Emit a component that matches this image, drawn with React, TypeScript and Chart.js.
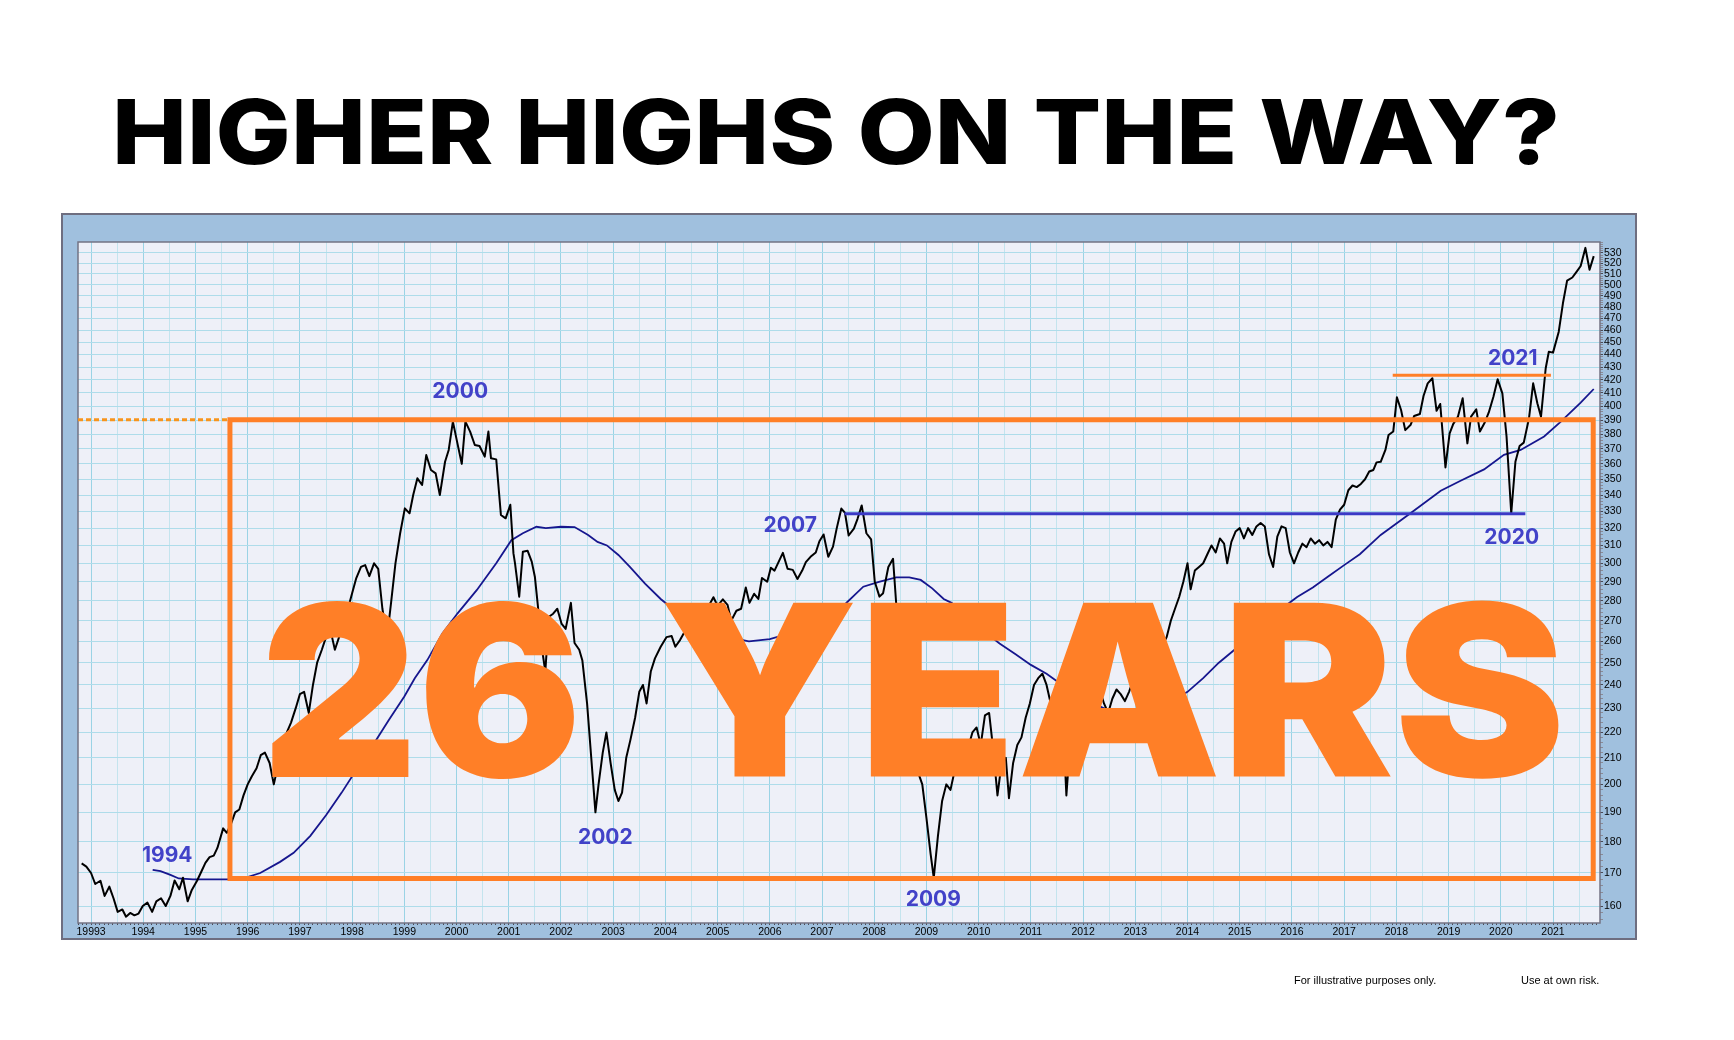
import React, { useEffect, useRef } from 'react';
import { Chart, registerables } from 'chart.js';

Chart.register(...registerables);

// ---------------- DATA ----------------
const TITLE = 'HIGHER HIGHS ON THE WAY?';
const BIG_TEXT_PARTS = ['26', 'YEARS'];
const FOOTER_LEFT = 'For illustrative purposes only.';
const FOOTER_RIGHT = 'Use at own risk.';

// x tick labels (years)
const xTickYears = [1993, 1994, 1995, 1996, 1997, 1998, 1999, 2000, 2001, 2002, 2003, 2004, 2005, 2006, 2007, 2008, 2009, 2010, 2011, 2012, 2013, 2014, 2015, 2016, 2017, 2018, 2019, 2020, 2021];
const xTickLabels = ['19993', '1994', '1995', '1996', '1997', '1998', '1999', '2000', '2001', '2002', '2003', '2004', '2005', '2006', '2007', '2008', '2009', '2010', '2011', '2012', '2013', '2014', '2015', '2016', '2017', '2018', '2019', '2020', '2021'];
// y tick labels
const yTickValues = [160, 170, 180, 190, 200, 210, 220, 230, 240, 250, 260, 270, 280, 290, 300, 310, 320, 330, 340, 350, 360, 370, 380, 390, 400, 410, 420, 430, 440, 450, 460, 470, 480, 490, 500, 510, 520, 530];

// price (decimal year, value)
const priceYears = [
  1992.82, 1992.91, 1993.0, 1993.08, 1993.18, 1993.26, 1993.35, 1993.43, 1993.51, 1993.6, 1993.67, 1993.75, 1993.83, 1993.91, 1993.99,
  1994.08, 1994.17, 1994.25, 1994.34, 1994.43, 1994.52, 1994.6, 1994.69, 1994.76, 1994.85, 1994.93,
  1995.03, 1995.1, 1995.19, 1995.27, 1995.35, 1995.42, 1995.53, 1995.6, 1995.68, 1995.76, 1995.84, 1995.92,
  1996.0, 1996.08, 1996.17, 1996.25, 1996.33, 1996.42, 1996.5, 1996.58, 1996.67, 1996.75, 1996.83, 1996.92,
  1997.0, 1997.08, 1997.17, 1997.25, 1997.33, 1997.42, 1997.5, 1997.58, 1997.67, 1997.75, 1997.83, 1997.92,
  1998.0, 1998.08, 1998.17, 1998.25, 1998.33, 1998.42, 1998.5, 1998.58, 1998.67, 1998.75, 1998.83, 1998.92,
  1999.01, 1999.1, 1999.17, 1999.25, 1999.34, 1999.42, 1999.51, 1999.6, 1999.68, 1999.78, 1999.85, 1999.93,
  2000.01, 2000.1, 2000.17, 2000.26, 2000.35, 2000.44, 2000.54, 2000.61, 2000.66, 2000.76, 2000.85, 2000.94,
  2001.03, 2001.09, 2001.12, 2001.2, 2001.27, 2001.36, 2001.44, 2001.5, 2001.56, 2001.64, 2001.7, 2001.77, 2001.85, 2001.93,
  2002.01, 2002.09, 2002.19, 2002.26, 2002.35, 2002.41, 2002.5, 2002.58, 2002.66, 2002.72, 2002.8, 2002.87, 2002.95,
  2003.03, 2003.1, 2003.17, 2003.25, 2003.33, 2003.42, 2003.5, 2003.57, 2003.64, 2003.72, 2003.8, 2003.91,
  2004.02, 2004.12, 2004.19, 2004.28, 2004.35, 2004.43, 2004.5, 2004.6, 2004.7, 2004.8, 2004.92,
  2005.0, 2005.1, 2005.19, 2005.26, 2005.36, 2005.45, 2005.54, 2005.61, 2005.7, 2005.78, 2005.85, 2005.95,
  2006.02, 2006.09, 2006.18, 2006.25, 2006.34, 2006.44, 2006.53, 2006.62, 2006.69, 2006.78, 2006.88, 2006.95,
  2007.03, 2007.12, 2007.21, 2007.28, 2007.37, 2007.44, 2007.51, 2007.61, 2007.68, 2007.76, 2007.85, 2007.94,
  2008.01, 2008.1, 2008.17, 2008.27, 2008.36, 2008.42, 2008.5, 2008.58, 2008.67, 2008.75, 2008.83, 2008.92,
  2009.0, 2009.08, 2009.14, 2009.22, 2009.3, 2009.38, 2009.46, 2009.55, 2009.63, 2009.71, 2009.8, 2009.88, 2009.96,
  2010.04, 2010.12, 2010.2, 2010.28, 2010.36, 2010.44, 2010.52, 2010.58, 2010.66, 2010.74, 2010.82, 2010.9, 2010.98,
  2011.06, 2011.14, 2011.22, 2011.3, 2011.38, 2011.46, 2011.54, 2011.62, 2011.68, 2011.76, 2011.84, 2011.92,
  2012.0, 2012.08, 2012.16, 2012.24, 2012.32, 2012.4, 2012.48, 2012.56, 2012.64, 2012.72, 2012.8, 2012.88, 2012.96,
  2013.04, 2013.12, 2013.2, 2013.28, 2013.36, 2013.44, 2013.52, 2013.6, 2013.68, 2013.76, 2013.84, 2013.92,
  2014.0, 2014.06, 2014.14, 2014.22, 2014.3, 2014.38, 2014.46, 2014.54, 2014.62, 2014.7, 2014.76, 2014.84, 2014.92,
  2015.0, 2015.08, 2015.16, 2015.24, 2015.32, 2015.4, 2015.48, 2015.56, 2015.64, 2015.72, 2015.8, 2015.88, 2015.96,
  2016.04, 2016.12, 2016.2, 2016.28, 2016.36, 2016.44, 2016.52, 2016.6, 2016.68, 2016.76, 2016.84, 2016.92,
  2017.0, 2017.08, 2017.16, 2017.24, 2017.32, 2017.4, 2017.48, 2017.56, 2017.62, 2017.7, 2017.79, 2017.85, 2017.94,
  2018.01, 2018.09, 2018.17, 2018.27, 2018.34, 2018.45, 2018.52, 2018.6, 2018.69, 2018.77, 2018.84, 2018.94,
  2019.02, 2019.09, 2019.18, 2019.27, 2019.36, 2019.43, 2019.53, 2019.6, 2019.69, 2019.77, 2019.86, 2019.94,
  2020.03, 2020.11, 2020.2, 2020.28, 2020.36, 2020.44, 2020.54, 2020.62, 2020.7, 2020.77, 2020.86, 2020.92,
  2021.0, 2021.11, 2021.19, 2021.27, 2021.37, 2021.45, 2021.53, 2021.62, 2021.7, 2021.78,
];
const priceValues = [
  173, 172, 170, 166.6, 167.6, 163, 165.8, 162.3, 158.3, 159, 156.9, 158, 157.3, 157.8, 160,
  161, 158.3, 161.4, 162.3, 160, 163, 167.7, 165, 168.5, 161.4, 164.8,
  167.6, 170, 173.2, 175, 175.5, 178, 184.5, 183, 186, 190, 191, 196,
  200, 203, 206, 211, 212, 208, 200, 207, 214, 220, 224, 230,
  236, 237, 228, 240, 250, 256, 262, 266, 256, 262, 270, 276,
  284, 292, 298, 299, 293, 300, 297, 276, 262, 280, 300, 317,
  331.8, 328.8, 340, 350.6, 346.3, 365.9, 356, 353.8, 340, 361.4, 369.3, 389,
  375, 360, 389, 381.9, 372.7, 372, 364.8, 382, 363.7, 363, 327.8, 325.8,
  334, 305.5, 300, 282.2, 306.4, 307, 300.9, 292.7, 277, 255.9, 246, 272, 273.5, 276,
  268.6, 266, 279, 259.2, 256, 251, 232, 210, 190, 200, 212, 220, 208,
  198, 194, 197, 210, 217, 226, 237, 240, 232, 246, 252, 257.4,
  262, 262.5, 257.4, 260.6, 263.8, 266, 268.7, 266, 272, 276, 281.9,
  277.5, 280.8, 278, 270, 275, 276, 287, 279, 283.7, 281, 292, 290,
  297.6, 296, 301.5, 305.8, 297, 296.4, 291.5, 296, 300.6, 303.6, 306, 312.4,
  316.3, 303.6, 309.3, 319.7, 331.7, 329, 315.7, 319.7, 325.5, 333.6, 317, 313.5,
  290, 282.2, 284, 298, 302.5, 278.8, 265, 255, 240, 222, 205, 200,
  188, 176, 168.5, 182, 194, 200, 198, 206, 212, 216, 214, 220, 222,
  215, 227, 228, 213, 196, 208, 210, 195, 208, 215, 218, 226, 232,
  240, 243, 245, 240, 232, 230, 228, 222, 196, 218, 224, 228,
  232, 236, 241, 246, 238, 232, 228, 234, 238, 236, 233, 237, 242,
  248, 252, 256, 262, 258, 264, 258, 262, 270, 276, 282, 290,
  300, 286, 296, 298, 300, 305, 310, 306, 314, 311, 300, 312, 318,
  320, 314, 320, 316, 321, 323, 321, 305, 298, 315, 321, 320, 306,
  300, 306, 311, 309, 314, 311, 313, 310, 312, 309, 325, 331,
  334, 343, 346, 345, 347, 350, 355, 356, 361, 361.4, 369.3, 379.6, 382,
  406.8, 397.4, 383, 386.6, 393, 394.5, 407.7, 417.3, 421.2, 396.8, 401.8, 357.7,
  380.7, 387.4, 392.6, 406, 373.8, 392.6, 397.9, 382, 388.2, 395.6, 407.4, 420.4,
  409.7, 378.6, 328.8, 361.4, 372, 374.3, 391.4, 417.3, 402.3, 392.6, 429, 442.2,
  441.5, 458.8, 483.3, 503.8, 506.7, 512, 517.5, 535, 514, 527,
];

// long moving average (decimal year, value)
const maYears = [
  1994.18, 1994.33, 1994.52, 1994.68, 1994.95, 1995.22, 1995.6, 1995.92, 1996.24, 1996.62, 1996.88, 1997.2, 1997.5, 1997.8,
  1998.1, 1998.4, 1998.7, 1999.0, 1999.2, 1999.44, 1999.73, 2000.02, 2000.39, 2000.76, 2001.05, 2001.27, 2001.53, 2001.71,
  2002.0, 2002.26, 2002.52, 2002.7, 2002.88, 2003.1, 2003.32, 2003.61, 2003.91, 2004.05, 2004.4, 2004.8, 2005.2, 2005.6,
  2006.0, 2006.4, 2006.8, 2007.1, 2007.46, 2007.79, 2008.09, 2008.42, 2008.67, 2008.89, 2009.11, 2009.33, 2009.48, 2009.8,
  2010.1, 2010.4, 2010.7, 2011.0, 2011.3, 2011.6, 2011.9, 2012.2, 2012.5, 2012.8, 2013.1, 2013.4, 2013.7, 2014.0, 2014.3,
  2014.6, 2014.9, 2015.2, 2015.5, 2015.8, 2016.1, 2016.4, 2016.7, 2017.0, 2017.3, 2017.7, 2018.27, 2018.85, 2019.23, 2019.68,
  2020.06, 2020.38, 2020.83, 2021.15, 2021.53, 2021.78,
];
const maValues = [
  171, 170.6, 169.4, 168.3, 168, 168, 168, 168.3, 170, 173.5, 176.4, 182, 189, 197,
  206, 215, 225, 235, 243, 251.2, 263.8, 273.7, 285.7, 300, 313, 317, 320.8, 320,
  320.8, 320.6, 316, 312, 310, 304.6, 298, 289, 281, 277.9, 271, 266, 262, 260,
  261, 264, 269, 273, 278.8, 287.4, 290, 292.4, 292.4, 291, 286.5, 281, 279, 271,
  265, 259, 254, 249, 245, 240, 236, 232, 229, 228, 228, 230, 233, 237, 243,
  250, 256, 262, 270, 276, 282, 287, 293, 299, 305, 316, 328.8, 342.7, 349, 356.4,
  366, 369.3, 378.6, 389, 402.8, 413,
];

// annotation levels (data space)
const high2007Level = 328.5;
const high2007Span = [2007.43, 2020.47];
const high2021Level = 423.5;
const high2021Span = [2017.93, 2020.96];
const boxTop = 390.3;
const boxBottom = 168.3;
const boxSpan = [1995.66, 2021.77];
const xMin = 1992.75;
const xMax = 2021.9;
const yMin = 155.1;
const yMax = 540.8;

const yearNotes = [
  { text: '1994', x: 1994.46, y: 176 },
  { text: '2000', x: 2000.07, y: 411.5 },
  { text: '2002', x: 2002.85, y: 181.9 },
  { text: '2007', x: 2006.39, y: 322.4 },
  { text: '2009', x: 2009.13, y: 162.3 },
  { text: '2020', x: 2020.21, y: 315.4 },
  { text: '2021', x: 2020.23, y: 437.9 },
];

// ---------------- STYLE ----------------
const ORANGE = '#FF7F27';
const NOTE_BLUE = '#4242C8';
const LINE_BLUE = '#3A3AC6';
const MA_BLUE = '#16168E';
// horizontal extents of the two big words, relative to the plot's left edge
const BIG_BOXES = [
  { left: 190, right: 497 },
  { left: 586, right: 1481 },
];
const BIG_TOP = 359;
const BIG_BOTTOM = 537;

const monthIndex = (v: number) => Math.round(v * 12);

const decorPlugin = {
  id: 'decor',
  beforeDraw(chart: any) {
    const { ctx, chartArea: a } = chart;
    ctx.save();
    ctx.fillStyle = '#ffffff';
    ctx.fillRect(0, 0, chart.width, chart.height);
    const L = a.left - 16, T = a.top - 28, R = a.right + 36, B = a.bottom + 16;
    ctx.fillStyle = '#A0C0DE';
    ctx.fillRect(L, T, R - L, B - T);
    ctx.strokeStyle = '#6E6E80';
    ctx.lineWidth = 2;
    ctx.strokeRect(L, T, R - L, B - T);
    ctx.fillStyle = '#EEF0F8';
    ctx.fillRect(a.left, a.top, a.right - a.left, a.bottom - a.top);
    ctx.restore();
  },
  beforeDatasetsDraw(chart: any) {
    const { ctx, chartArea: a } = chart;
    ctx.save();
    ctx.strokeStyle = '#737384';
    ctx.lineWidth = 1.5;
    ctx.strokeRect(a.left, a.top, a.right - a.left, a.bottom - a.top);
    ctx.restore();
  },
  afterDatasetsDraw(chart: any) {
    const { ctx, chartArea: a } = chart;
    const xs = chart.scales.x;
    const ys = chart.scales.y;
    ctx.save();
    // year notes
    ctx.font = '700 21px Inter, "Open Sans", sans-serif';
    ctx.fillStyle = NOTE_BLUE;
    ctx.textAlign = 'center';
    ctx.textBaseline = 'alphabetic';
    for (const n of yearNotes) {
      ctx.fillText(n.text, xs.getPixelForValue(n.x), ys.getPixelForValue(n.y) + 7.5);
    }
    ctx.restore();
    // big "26 YEARS"
    const font = '900 200px Inter, "Open Sans", sans-serif';
    BIG_TEXT_PARTS.forEach((txt, i) => {
      ctx.save();
      ctx.font = font;
      ctx.textAlign = 'left';
      ctx.textBaseline = 'alphabetic';
      const m = ctx.measureText(txt);
      const w = m.actualBoundingBoxLeft + m.actualBoundingBoxRight;
      const h = m.actualBoundingBoxAscent + m.actualBoundingBoxDescent;
      const bl = a.left + BIG_BOXES[i].left, br = a.left + BIG_BOXES[i].right;
      const bt = a.top + BIG_TOP, bb = a.top + BIG_BOTTOM;
      ctx.translate(bl, bb);
      ctx.scale((br - bl) / w, (bb - bt) / h);
      ctx.fillStyle = ORANGE;
      ctx.fillText(txt, m.actualBoundingBoxLeft, -m.actualBoundingBoxDescent);
      ctx.restore();
    });
  },
};

export default function App() {
  const canvasRef = useRef<HTMLCanvasElement | null>(null);
  const titleRef = useRef<HTMLDivElement | null>(null);

  useEffect(() => {
    document.body.style.overflow = 'hidden';
    // fit the title
    const t = titleRef.current;
    if (t) {
      const mc = document.createElement('canvas').getContext('2d')!;
      const fam = '800 100px Inter, "Open Sans", sans-serif';
      mc.font = fam;
      const m = mc.measureText(TITLE);
      const fA = (m as any).fontBoundingBoxAscent ?? 97;
      const fD = (m as any).fontBoundingBoxDescent ?? 24;
      const box = { left: 117, right: 1556, top: 98, bottom: 165 };
      const sx = (box.right - box.left) / (m.actualBoundingBoxLeft + m.actualBoundingBoxRight);
      const sy = (box.bottom - box.top) / (m.actualBoundingBoxAscent + m.actualBoundingBoxDescent);
      t.style.font = fam;
      t.style.lineHeight = `${fA + fD}px`;
      t.style.left = `${box.left + sx * m.actualBoundingBoxLeft}px`;
      t.style.top = `${box.top - sy * (fA - m.actualBoundingBoxAscent)}px`;
      t.style.transform = `scale(${sx}, ${sy})`;
      t.style.visibility = 'visible';
    }

    const labelMap = new Map<number, string>();
    xTickYears.forEach((y, i) => labelMap.set(y * 12, xTickLabels[i]));
    const monthTicks: number[] = [];
    for (let mi = Math.ceil(xMin * 12); mi <= Math.floor(xMax * 12); mi++) monthTicks.push(mi / 12);
    const yMinor: number[] = [];
    for (let v = 156; v <= 540; v += 2) yMinor.push(v);
    const ySet = new Set(yTickValues);

    const price = priceYears.map((x, i) => ({ x, y: priceValues[i] }));
    const ma = maYears.map((x, i) => ({ x, y: maValues[i] }));
    const boxPts = [
      { x: boxSpan[0], y: boxTop },
      { x: boxSpan[1], y: boxTop },
      { x: boxSpan[1], y: boxBottom },
      { x: boxSpan[0], y: boxBottom },
      { x: boxSpan[0], y: boxTop },
    ];

    const common = { pointRadius: 0, pointHoverRadius: 0, tension: 0, fill: false };
    const chart = new Chart(canvasRef.current!, {
      type: 'line',
      data: {
        datasets: [
          { ...common, label: 'box', data: boxPts, borderColor: ORANGE, borderWidth: 5, borderJoinStyle: 'miter', borderCapStyle: 'square', order: 0 } as any,
          { ...common, label: '2021 high', data: [{ x: high2021Span[0], y: high2021Level }, { x: high2021Span[1], y: high2021Level }], borderColor: ORANGE, borderWidth: 3, order: 1 },
          { ...common, label: 'prior high', data: [{ x: xMin, y: boxTop }, { x: boxSpan[0], y: boxTop }], borderColor: '#F7941D', borderWidth: 3, borderDash: [5, 3], order: 2 },
          { ...common, label: '2007 high', data: [{ x: high2007Span[0], y: high2007Level }, { x: high2007Span[1], y: high2007Level }], borderColor: LINE_BLUE, borderWidth: 3, order: 3 },
          { ...common, label: 'price', data: price, borderColor: '#000000', borderWidth: 2, borderJoinStyle: 'round', order: 4 },
          { ...common, label: 'average', data: ma, borderColor: MA_BLUE, borderWidth: 1.8, order: 5 },
        ],
      },
      options: {
        responsive: false,
        animation: false,
        events: [],
        layout: { padding: { left: 78, top: 242, right: 104, bottom: 97 } },
        plugins: { legend: { display: false }, tooltip: { enabled: false }, title: { display: false } },
        scales: {
          x: {
            type: 'linear',
            min: xMin,
            max: xMax,
            bounds: 'data',
            afterBuildTicks: (s: any) => { s.ticks = monthTicks.map((v) => ({ value: v })); },
            afterFit: (s: any) => { s.height = 20; },
            ticks: {
              autoSkip: false,
              maxRotation: 0,
              minRotation: 0,
              padding: 1,
              color: '#000',
              font: { family: '"Liberation Sans", Arial, sans-serif', size: 10.5 },
              callback: (v: any) => labelMap.get(monthIndex(Number(v))) ?? '',
            },
            grid: {
              color: (c: any) => {
                if (!c.tick) return 'rgba(0,0,0,0)';
                const mi = monthIndex(c.tick.value);
                if (mi % 12 === 0) return '#9AD3E5';
                if (mi % 6 === 0) return '#C4E4EE';
                return 'rgba(0,0,0,0)';
              },
              lineWidth: 1,
              drawTicks: true,
              tickLength: 2,
              tickColor: '#4a4a55',
              tickWidth: 1,
            },
            border: { display: false },
          },
          y: {
            type: 'logarithmic',
            position: 'right',
            min: yMin,
            max: yMax,
            bounds: 'data',
            afterBuildTicks: (s: any) => { s.ticks = yMinor.map((v) => ({ value: v })); },
            afterFit: (s: any) => { s.width = 30; },
            ticks: {
              autoSkip: false,
              padding: 1,
              color: '#000',
              font: { family: '"Liberation Sans", Arial, sans-serif', size: 10.5 },
              callback: (v: any) => (ySet.has(Number(v)) ? String(v) : ''),
            },
            grid: {
              color: (c: any) => (c.tick && ySet.has(c.tick.value) ? '#AEDCEA' : 'rgba(0,0,0,0)'),
              lineWidth: 1,
              drawTicks: true,
              tickLength: 3,
              tickColor: (c: any) => (c.tick && ySet.has(c.tick.value) ? '#4a4a55' : '#8a8a95'),
              tickWidth: 1,
            },
            border: { display: false },
          },
        },
      } as any,
      plugins: [decorPlugin],
    });
    return () => chart.destroy();
  }, []);

  return (
    <div style={{ position: 'absolute', left: 0, top: 0, width: 1734, height: 1040, overflow: 'hidden', background: '#fff' }}>
      <canvas ref={canvasRef} width={1734} height={1040} style={{ position: 'absolute', left: 0, top: 0, display: 'block' }} />
      <div
        ref={titleRef}
        style={{ position: 'absolute', left: 117, top: 80, whiteSpace: 'nowrap', color: '#000', transformOrigin: '0 0', visibility: 'hidden', margin: 0, padding: 0 }}
      >
        {TITLE}
      </div>
      <div style={{ position: 'absolute', left: 1294, top: 974, fontFamily: '"Liberation Sans", Arial, sans-serif', fontSize: 11, lineHeight: '13px', color: '#000', whiteSpace: 'nowrap' }}>
        {FOOTER_LEFT}
      </div>
      <div style={{ position: 'absolute', left: 1521, top: 974, fontFamily: '"Liberation Sans", Arial, sans-serif', fontSize: 11, lineHeight: '13px', color: '#000', whiteSpace: 'nowrap' }}>
        {FOOTER_RIGHT}
      </div>
    </div>
  );
}
